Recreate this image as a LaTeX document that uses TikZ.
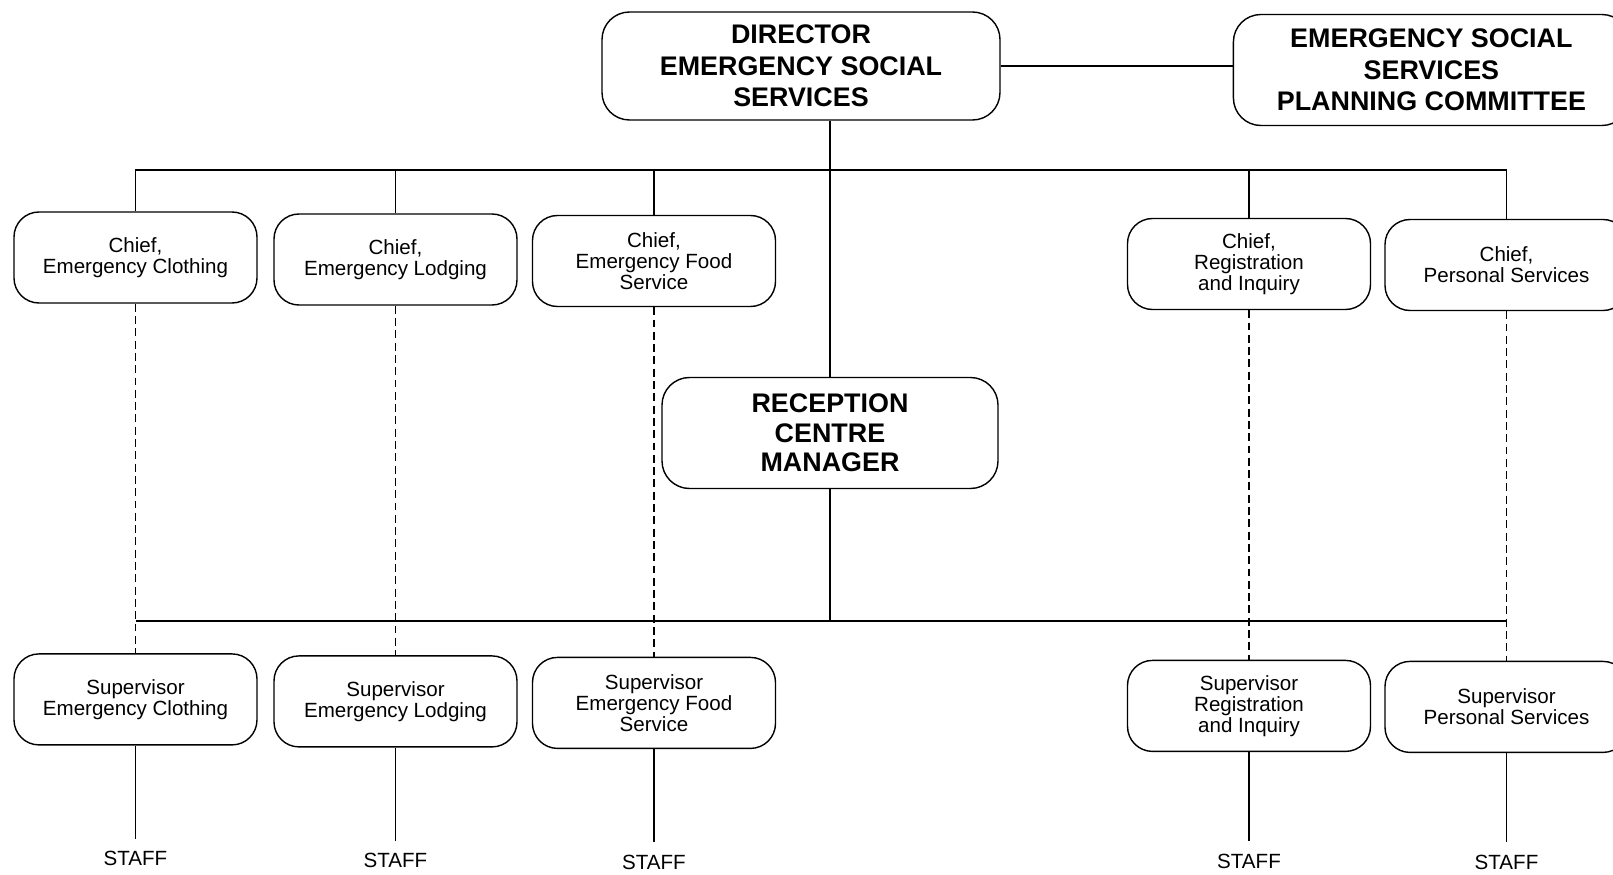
\documentclass[tikz,border=0pt]{standalone}
\usepackage{fontspec}
\setmainfont{Liberation Sans}
\usetikzlibrary{positioning}

\begin{document}
\begin{tikzpicture}[
    line width=0.8pt,
    headbox/.style={rectangle, draw, rounded corners=0.55cm,
        minimum width=7.96cm, minimum height=2.16cm, align=center,
        font=\fontsize{15.3}{17.9}\selectfont\bfseries},
    unitbox/.style={rectangle, draw, rounded corners=0.5cm,
        minimum width=4.86cm, minimum height=1.82cm, align=center,
        font=\fontsize{11.7}{12.0}\selectfont},
    staffnode/.style={font=\fontsize{11.7}{12.0}\selectfont, inner sep=7pt},
    dashlink/.style={dash pattern=on 4.5pt off 2.5pt, line width=0.7pt}
]
    \useasboundingbox (0,0) rectangle (32.26,17.48);

    % Top level
    \node[headbox] (dir) at (16.02,16.16) {DIRECTOR\\EMERGENCY SOCIAL\\SERVICES};
    \node[headbox, right=4.64cm of dir, yshift=-0.08cm, minimum width=7.92cm,
        minimum height=2.22cm] (essc) {EMERGENCY SOCIAL\\SERVICES\\PLANNING COMMITTEE};

    % Chiefs
    \node[unitbox] (chclo) at (2.71,12.33) {Chief,\\Emergency Clothing};
    \node[unitbox] (chlod) at (7.91,12.29) {Chief,\\Emergency Lodging};
    \node[unitbox] (chfoo) at (13.08,12.26) {Chief,\\Emergency Food\\Service};
    \node[unitbox] (chreg) at (24.98,12.20) {Chief,\\Registration\\and Inquiry};
    \node[unitbox] (chper) at (30.13,12.18) {Chief,\\Personal Services};

    % Reception centre
    \node[headbox, minimum width=6.72cm, minimum height=2.22cm,
        font=\fontsize{15.3}{16.7}\selectfont\bfseries] (rcm) at (16.6,8.82)
        {RECEPTION\\CENTRE\\MANAGER};

    % Supervisors
    \node[unitbox, below=6.99cm of chclo] (suclo) {Supervisor\\Emergency Clothing};
    \node[unitbox, below=6.99cm of chlod] (sulod) {Supervisor\\Emergency Lodging};
    \node[unitbox, below=6.99cm of chfoo] (sufoo) {Supervisor\\Emergency Food\\Service};
    \node[unitbox, below=6.99cm of chreg] (sureg) {Supervisor\\Registration\\and Inquiry};
    \node[unitbox, below=6.99cm of chper] (super) {Supervisor\\Personal Services};

    % Staff
    \node[staffnode, below=1.86cm of suclo] (stclo) {STAFF};
    \node[staffnode, below=1.86cm of sulod] (stlod) {STAFF};
    \node[staffnode, below=1.86cm of sufoo] (stfoo) {STAFF};
    \node[staffnode, below=1.78cm of sureg] (streg) {STAFF};
    \node[staffnode, below=1.78cm of super] (stper) {STAFF};

    \coordinate (topbus) at (0,14.08);
    \coordinate (botbus) at (0,5.06);

    \draw (dir.east) -- (dir.east -| essc.west);
    \draw (rcm.north) -- (rcm.north |- dir.south);
    \draw (chclo.north) |- (topbus -| chper.north) -- (chper.north);
    \draw (chlod.north) -- (chlod.north |- topbus);
    \draw (chfoo.north) -- (chfoo.north |- topbus);
    \draw (chreg.north) -- (chreg.north |- topbus);
    \draw (rcm.south) -- (rcm.south |- botbus);
    \draw (suclo.north |- botbus) -- (super.north |- botbus);

    \draw[dashlink] (chclo) -- (suclo);
    \draw[dashlink] (chlod) -- (sulod);
    \draw[dashlink] (chfoo) -- (sufoo);
    \draw[dashlink] (chreg) -- (sureg);
    \draw[dashlink] (chper) -- (super);

    \draw (suclo) -- (stclo);
    \draw (sulod) -- (stlod);
    \draw (sufoo) -- (stfoo);
    \draw (sureg) -- (streg);
    \draw (super) -- (stper);
\end{tikzpicture}
\end{document}
